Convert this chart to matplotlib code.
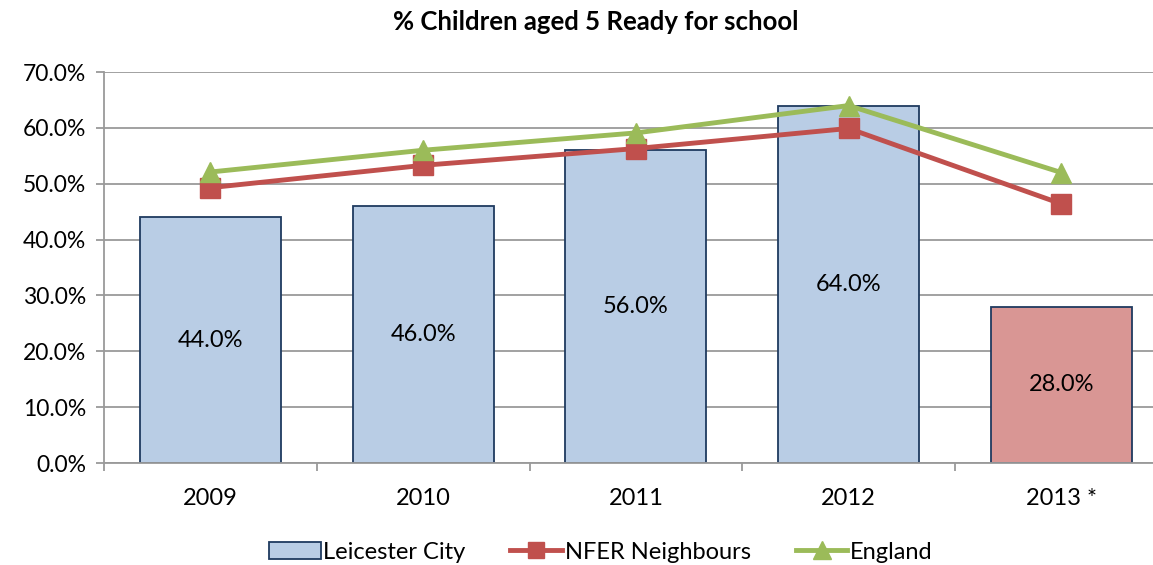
import numpy as np
import matplotlib
matplotlib.use("Agg")
import matplotlib.pyplot as plt
from matplotlib.ticker import FuncFormatter

plt.rcParams['font.family'] = ['Lato', 'DejaVu Sans']

# data
years = ['2009', '2010', '2011', '2012', '2013 *']
leicester = [44.0, 46.0, 56.0, 64.0, 28.0]
nfer = [49.3, 53.3, 56.3, 59.9, 46.4]
england = [52.1, 56.0, 59.1, 64.0, 52.0]

bar_colors = ['#B9CDE5', '#B9CDE5', '#B9CDE5', '#B9CDE5', '#D99694']
edge = '#1F3A5F'
grid_col = '#9A9A9A'

fig = plt.figure(figsize=(11.53, 5.65), dpi=100)
# the plot area runs slightly past the right edge of the picture, as in the original
ax = fig.add_axes([0.0902, 0.1805, 0.9226, 0.692])

x = np.arange(len(years))
bars = ax.bar(x, leicester, width=0.663, color=bar_colors, edgecolor=edge,
              linewidth=1.3, zorder=2, label='Leicester City')
for xi, v in zip(x, leicester):
    ax.text(xi, v / 2, f'{v:.1f}%', ha='center', va='center', fontsize=17,
            color='black', zorder=5)

ax.plot(x, nfer, color='#C0504D', linewidth=3.5, marker='s', markersize=14,
        zorder=3, label='NFER Neighbours')
ax.plot(x, england, color='#9BBB59', linewidth=3.5, marker='^', markersize=15,
        zorder=4, label='England')

ax.set_xlim(-0.5, len(years) - 0.5)
ax.set_ylim(0, 70)
ax.set_yticks(np.arange(0, 71, 10))
ax.yaxis.set_major_formatter(FuncFormatter(lambda v, p: f'{v:.1f}%'))
ax.yaxis.grid(True, color=grid_col, linewidth=1.3, zorder=0)
ax.set_axisbelow(True)

ax.set_xticks(x)
ax.set_xticklabels(years)
ax.set_xticks(np.arange(-0.5, len(years), 1), minor=True)
ax.tick_params(axis='x', which='major', length=0, pad=18, labelsize=17)
ax.tick_params(axis='x', which='minor', length=6, color=grid_col, width=1.3)
ax.tick_params(axis='y', length=6, color=grid_col, width=1.3, labelsize=16.5, pad=7)

for s in ['top', 'right']:
    ax.spines[s].set_visible(False)
for s in ['left', 'bottom']:
    ax.spines[s].set_color(grid_col)
    ax.spines[s].set_linewidth(1.3)

fig.text(0.517, 0.961, '% Children aged 5 Ready for school', fontsize=18.5,
         fontweight='bold', ha='center', va='center')

h, l = ax.get_legend_handles_labels()
order = [2, 0, 1]
fig.legend([h[i] for i in order], [l[i] for i in order], loc='center',
           bbox_to_anchor=(0.521, 0.023), ncol=3, frameon=False,
           fontsize=17, handlelength=2.2, handletextpad=0.1, columnspacing=1.9,
           markerscale=0.85)

fig.savefig('out.png', dpi=100)
